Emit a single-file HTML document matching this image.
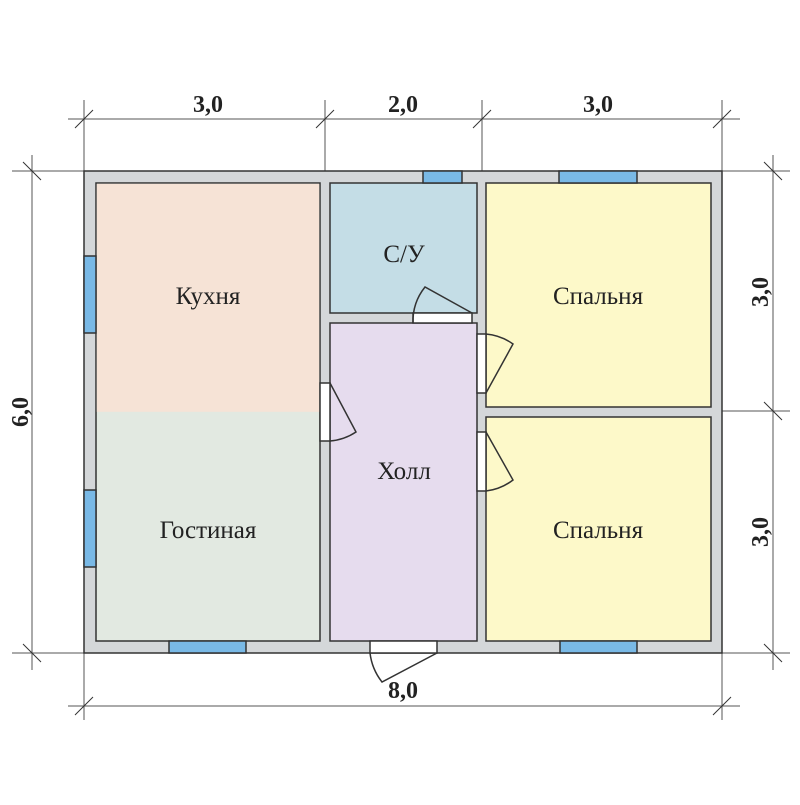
<!DOCTYPE html>
<html><head><meta charset="utf-8"><style>body{margin:0;background:#fff}</style></head><body>
<svg width="800" height="800" viewBox="0 0 800 800" xmlns="http://www.w3.org/2000/svg">
<g stroke="#555" stroke-width="1" fill="none">
<line x1="68" y1="119" x2="740" y2="119"/>
<line x1="84" y1="100" x2="84" y2="720"/><line x1="325" y1="100" x2="325" y2="171"/><line x1="482" y1="100" x2="482" y2="171"/><line x1="722" y1="100" x2="722" y2="720"/>
<line x1="32" y1="155" x2="32" y2="670"/><line x1="12" y1="171" x2="790" y2="171"/><line x1="12" y1="653" x2="790" y2="653"/>
<line x1="773" y1="155" x2="773" y2="670"/><line x1="722" y1="411" x2="790" y2="411"/>
<line x1="68" y1="706" x2="740" y2="706"/>
<g stroke="#333"><line x1="75" y1="128" x2="93" y2="110"/><line x1="316" y1="128" x2="334" y2="110"/><line x1="473" y1="128" x2="491" y2="110"/><line x1="713" y1="128" x2="731" y2="110"/>
<line x1="23" y1="162" x2="41" y2="180"/><line x1="23" y1="644" x2="41" y2="662"/>
<line x1="764" y1="162" x2="782" y2="180"/><line x1="764" y1="402" x2="782" y2="420"/><line x1="764" y1="644" x2="782" y2="662"/>
<line x1="75" y1="715" x2="93" y2="697"/><line x1="713" y1="715" x2="731" y2="697"/></g>
</g>
<rect x="84" y="171" width="638" height="482" fill="#d4d7d9" stroke="#333" stroke-width="1.5"/>
<g stroke="#333" stroke-width="1.5">
<rect x="96" y="183" width="224" height="458" fill="#e2e9e1"/>
<rect x="96.8" y="183.8" width="222.4" height="228" fill="#f6e3d6" stroke="none"/>
<rect x="330" y="183" width="147" height="130" fill="#c4dde6"/>
<rect x="330" y="323" width="147" height="318" fill="#e6dcee"/>
<rect x="486" y="183" width="225" height="224" fill="#fdf9c9"/>
<rect x="486" y="417" width="225" height="224" fill="#fdf9c9"/>
<g fill="#79b9e6">
<rect x="423" y="171" width="39" height="12"/><rect x="559" y="171" width="78" height="12"/>
<rect x="84" y="256" width="12" height="77"/><rect x="84" y="490" width="12" height="77"/>
<rect x="169" y="641" width="77" height="12"/><rect x="560" y="641" width="77" height="12"/>
</g>
<g fill="#fff">
<rect x="370" y="641" width="67" height="12"/>
<rect x="413" y="313" width="59" height="10"/>
<rect x="320" y="383" width="10" height="58"/>
<rect x="477" y="334" width="9" height="59"/>
<rect x="477" y="432" width="9" height="59"/>
</g>
<g fill="none">
<path d="M437 653 L382 682 A58 58 0 0 1 370 653"/>
<path d="M472 313 L425 287 A55 55 0 0 0 413 323"/>
<path d="M330 383 L356 432 A55 55 0 0 1 330 441"/>
<path d="M486 393 L513 344 A55 55 0 0 0 486 334"/>
<path d="M486 432 L513 480 A55 55 0 0 1 486 491"/>
</g>
</g>
<g font-family="Liberation Serif, serif" font-size="25" fill="#222" text-anchor="middle">
<text x="208" y="304">Кухня</text>
<text x="208" y="538">Гостиная</text>
<text x="404" y="262">С/У</text>
<text x="404" y="479">Холл</text>
<text x="598" y="304">Спальня</text>
<text x="598" y="538">Спальня</text>
<g font-weight="bold" font-size="24">
<text x="208" y="112">3,0</text><text x="403" y="112">2,0</text><text x="598" y="112">3,0</text>
<text x="403" y="698">8,0</text>
<text transform="translate(28 412) rotate(-90)">6,0</text>
<text transform="translate(768 292) rotate(-90)">3,0</text>
<text transform="translate(768 532) rotate(-90)">3,0</text>
</g></g>
</svg>
</body></html>
